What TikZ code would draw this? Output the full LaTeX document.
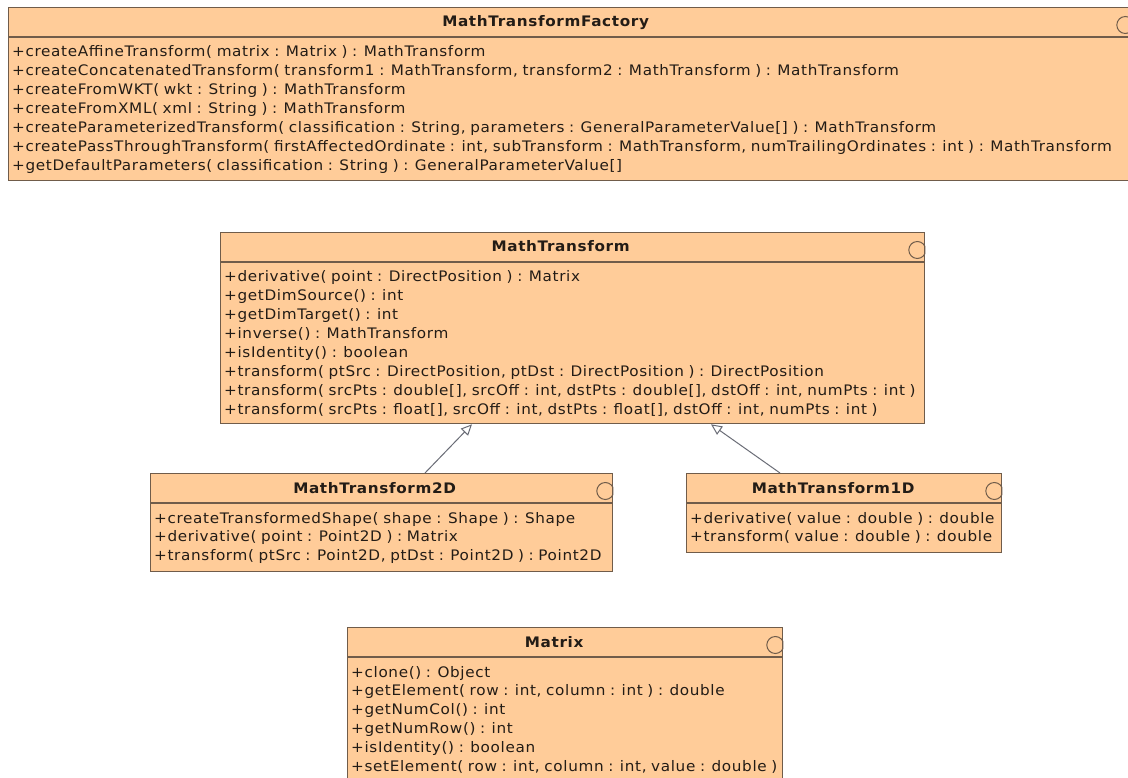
\documentclass[tikz,border=0pt]{standalone}
\usepackage{fontspec}
\setmainfont{DejaVu Sans}[FakeStretch=1.05, LetterSpace=4.5, WordSpace=0.84]
\usetikzlibrary{arrows.meta,calc}
\definecolor{umlfill}{RGB}{255,204,153}
\definecolor{umlline}{RGB}{112,92,74}
\definecolor{umltext}{RGB}{35,28,22}
\definecolor{genline}{RGB}{105,108,118}

\tikzset{
  classbox/.style={draw=umlline, fill=umlfill, line width=1.3pt, inner sep=0pt, rectangle},
  divider/.style={draw=umlline, line width=1.2pt},
  icon/.style={draw=umlline, line width=1pt},
  titletext/.style={inner sep=0pt, text=umltext, font=\fontsize{14.5}{17}\selectfont\bfseries},
  rowtext/.style={inner sep=0pt, text=umltext, font=\fontsize{14.5}{17}\selectfont},
  generalization/.style={draw=genline, line width=1pt,
    -{Triangle[open, length=11pt, width=10pt, fill=white]}},
}

% a class: name, left, top, width, height, title, title offset
\newcommand\umlclass[7]{%
  \node[classbox, minimum width=#4pt, minimum height=#5pt, anchor=north west] (#1) at (#2,#3) {};
  \draw[divider] ($(#1.north west)+(0,30)$) -- ($(#1.north east)+(0,30)$);
  \node[titletext, anchor=base] (#1-title) at ($(#1.north)+(#7,20)$) {#6};
  \begin{scope}
    \clip (#1.north west) rectangle (#1.south east);
    \draw[icon] ($(#1.north east)+(-8,18)$) circle[radius=8.5pt];
  \end{scope}
}
% one operation row of a class: class name, row index, text
\newcommand\umlrow[3]{%
  \node[rowtext, anchor=base west] (#1-r#2) at ($(#1.north west)+(4,50+#2*18.9)$) {#3};
}

\begin{document}
\begin{tikzpicture}[x=1pt, y=-1pt]
\useasboundingbox (0,0) rectangle (1128,778);
\fill[white] (0,0) rectangle (1128,778);

% MathTransformFactory
\umlclass{factory}{8}{7}{1124}{173}{MathTransformFactory}{-25}
\umlrow{factory}{0}{+createAffineTransform( matrix : Matrix ) : MathTransform}
\umlrow{factory}{1}{+createConcatenatedTransform( transform1 : MathTransform, transform2 : MathTransform ) : MathTransform}
\umlrow{factory}{2}{+createFromWKT( wkt : String ) : MathTransform}
\umlrow{factory}{3}{+createFromXML( xml : String ) : MathTransform}
\umlrow{factory}{4}{+createParameterizedTransform( classification : String, parameters : GeneralParameterValue[] ) : MathTransform}
\umlrow{factory}{5}{+createPassThroughTransform( firstAffectedOrdinate : int, subTransform : MathTransform, numTrailingOrdinates : int ) : MathTransform}
\umlrow{factory}{6}{+getDefaultParameters( classification : String ) : GeneralParameterValue[]}

% MathTransform
\umlclass{mt}{220}{232}{704}{191}{MathTransform}{-12}
\umlrow{mt}{0}{+derivative( point : DirectPosition ) : Matrix}
\umlrow{mt}{1}{+getDimSource() : int}
\umlrow{mt}{2}{+getDimTarget() : int}
\umlrow{mt}{3}{+inverse() : MathTransform}
\umlrow{mt}{4}{+isIdentity() : boolean}
\umlrow{mt}{5}{+transform( ptSrc : DirectPosition, ptDst : DirectPosition ) : DirectPosition}
\umlrow{mt}{6}{+transform( srcPts : double[], srcOff : int, dstPts : double[], dstOff : int, numPts : int )}
\umlrow{mt}{7}{+transform( srcPts : float[], srcOff : int, dstPts : float[], dstOff : int, numPts : int )}

% MathTransform2D
\umlclass{mt2d}{150}{473}{462}{98}{MathTransform2D}{-7}
\umlrow{mt2d}{0}{+createTransformedShape( shape : Shape ) : Shape}
\umlrow{mt2d}{1}{+derivative( point : Point2D ) : Matrix}
\umlrow{mt2d}{2}{+transform( ptSrc : Point2D, ptDst : Point2D ) : Point2D}

% MathTransform1D
\umlclass{mt1d}{686}{473}{315}{79}{MathTransform1D}{-11}
\umlrow{mt1d}{0}{+derivative( value : double ) : double}
\umlrow{mt1d}{1}{+transform( value : double ) : double}

% Matrix
\umlclass{matrix}{347}{627}{435}{160}{Matrix}{-11}
\umlrow{matrix}{0}{+clone() : Object}
\umlrow{matrix}{1}{+getElement( row : int, column : int ) : double}
\umlrow{matrix}{2}{+getNumCol() : int}
\umlrow{matrix}{3}{+getNumRow() : int}
\umlrow{matrix}{4}{+isIdentity() : boolean}
\umlrow{matrix}{5}{+setElement( row : int, column : int, value : double )}

% generalizations
\draw[generalization] ($(mt2d.north west)+(275,0)$) -- ($(mt.south west)+(252,0)$);
\draw[generalization] ($(mt1d.north west)+(94,0)$) -- ($(mt.south west)+(491,0)$);
\end{tikzpicture}
\end{document}
